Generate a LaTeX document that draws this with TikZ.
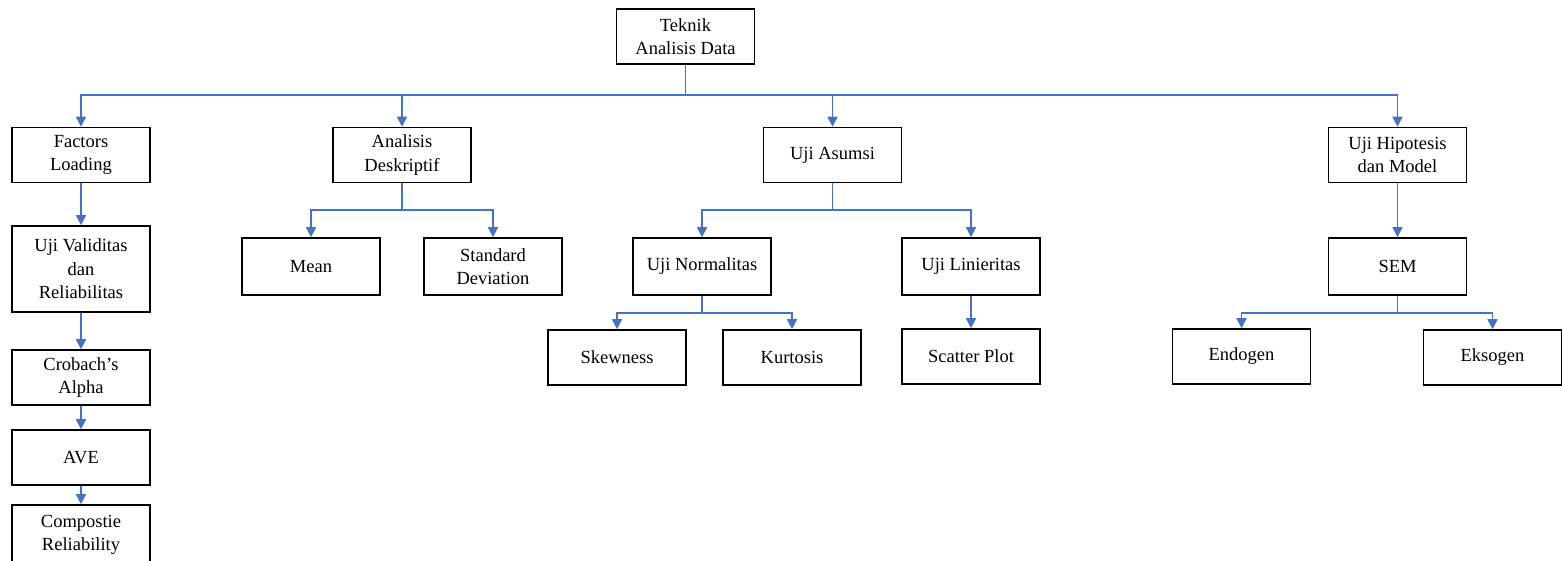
\documentclass[tikz,border=0pt]{standalone}
\usepackage{fontspec}
\setmainfont{Liberation Serif}
\usetikzlibrary{arrows.meta}
\definecolor{lnblue}{HTML}{4472C4}
\begin{document}
\begin{tikzpicture}[x=1pt,y=-1pt,
  box/.style={draw=black,line width=1.6pt,minimum width=138pt,minimum height=55pt,
    align=center,inner sep=2pt,font=\fontsize{18.5}{23.5}\selectfont},
  arr/.style={draw=lnblue,line width=1.6pt,-{Triangle[width=10pt,length=10pt]}},
  ln/.style={draw=lnblue,line width=1.6pt}]
\useasboundingbox (0,0) rectangle (1562,560);
% nodes
\node[box] (top) at (685.5,36.5) {Teknik\\Analisis Data};
\node[box] (fl) at (81,155) {Factors\\Loading};
\node[box] (ad) at (402,155) {Analisis\\Deskriptif};
\node[box] (ua) at (832.5,155) {Uji Asumsi};
\node[box] (uh) at (1397.5,155) {Uji Hipotesis\\dan Model};
\node[box,minimum height=86pt] (uv) at (81,269) {Uji Validitas\\dan\\Reliabilitas};
\node[box] (ca) at (81,377.5) {Crobach’s\\Alpha};
\node[box] (ave) at (81,457.5) {AVE};
\node[box,minimum height=60pt] (cr) at (81,535) {Compostie\\Reliability};
\node[box,minimum height=57pt] (mean) at (311,266.5) {Mean};
\node[box,minimum height=57pt] (sd) at (493,266.5) {Standard\\Deviation};
\node[box,minimum height=57pt] (un) at (702,266.5) {Uji Normalitas};
\node[box,minimum height=57pt] (ul) at (971,266.5) {Uji Linieritas};
\node[box] (sk) at (617,357.5) {Skewness};
\node[box] (ku) at (792,357.5) {Kurtosis};
\node[box] (sp) at (971,356.5) {Scatter Plot};
\node[box,minimum height=57pt] (sem) at (1397.5,266.5) {SEM};
\node[box] (en) at (1241.5,356.5) {Endogen};
\node[box] (ek) at (1492.5,357.5) {Eksogen};
% bus levels
\coordinate (b1) at (0,95);
\coordinate (b2) at (0,210);
\coordinate (b3) at (0,313);
% top level
\foreach \c in {fl,ad,ua,uh}
  \draw[arr] (top.south) -- (top.south |- b1) -| (\c.north);
% factors chain
\draw[arr] (fl.south) -- (uv.north);
\draw[arr] (uv.south) -- (ca.north);
\draw[arr] (ca.south) -- (ave.north);
\draw[arr] (ave.south) -- (cr.north);
% analisis deskriptif
\foreach \c in {mean,sd}
  \draw[arr] (ad.south) -- (ad.south |- b2) -| (\c.north);
% uji asumsi
\foreach \c in {un,ul}
  \draw[arr] (ua.south) -- (ua.south |- b2) -| (\c.north);
% normalitas
\foreach \c in {sk,ku}
  \draw[arr] (un.south) -- (un.south |- b3) -| (\c.north);
\draw[arr] (ul.south) -- (sp.north);
% hipotesis
\draw[arr] (uh.south) -- (sem.north);
\foreach \c in {en,ek}
  \draw[arr] (sem.south) -- (sem.south |- b3) -| (\c.north);
\end{tikzpicture}
\end{document}
